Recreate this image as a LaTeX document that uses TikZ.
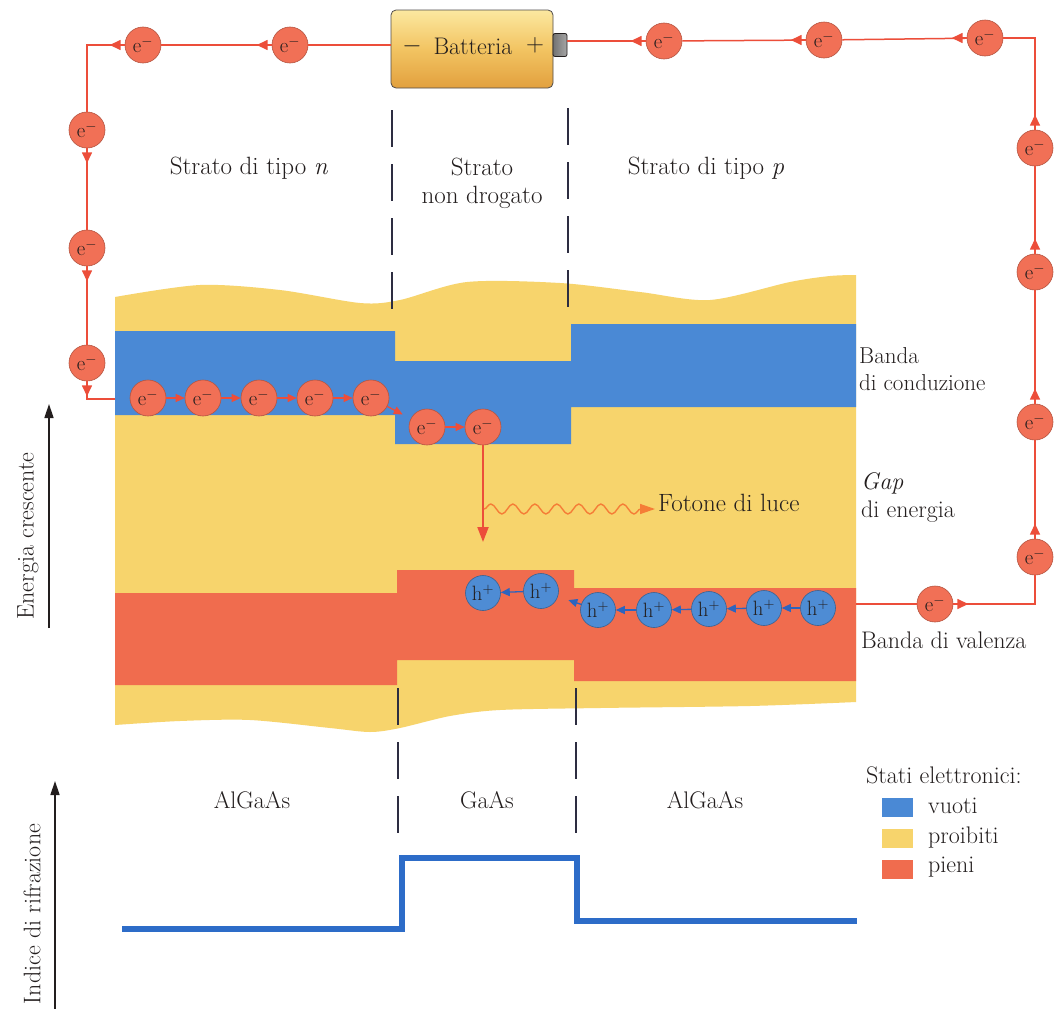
\documentclass[tikz,border=0pt]{standalone}
\usetikzlibrary{arrows.meta,decorations.pathmorphing,calc}

\definecolor{bandY}{RGB}{247,212,108}
\definecolor{bandB}{RGB}{74,137,213}
\definecolor{bandR}{RGB}{240,108,78}
\definecolor{wireR}{RGB}{236,78,58}
\definecolor{elecF}{RGB}{241,112,86}
\definecolor{holeF}{RGB}{78,140,212}
\definecolor{holeA}{RGB}{45,100,190}
\definecolor{photon}{RGB}{245,125,55}
\definecolor{ink}{RGB}{35,30,30}
\definecolor{rule}{RGB}{45,45,65}
\definecolor{idx}{RGB}{45,108,200}
\definecolor{batTop}{RGB}{252,232,160}
\definecolor{batMid}{RGB}{242,196,98}
\definecolor{batBot}{RGB}{226,160,62}

\begin{document}
\begin{tikzpicture}[x=1pt,y=-1pt,
  lab/.style={font=\fontsize{24}{28}\selectfont, text=ink, inner sep=0pt},
  biglab/.style={font=\fontsize{25}{28}\selectfont, text=ink, inner sep=0pt},
  sidelab/.style={font=\fontsize{23}{27}\selectfont, text=ink, inner sep=0pt},
  elec/.style={circle, minimum size=36pt, inner sep=0pt, fill=elecF,
    draw=elecF!75!black, line width=0.6pt, font=\fontsize{22}{22}\selectfont, text=ink},
  hole/.style={circle, minimum size=35pt, inner sep=0pt, fill=holeF,
    draw=holeF!70!black, line width=0.6pt, font=\fontsize{21}{21}\selectfont, text=ink},
  wire/.style={draw=wireR, line width=1.5pt},
  wtip/.style={draw=wireR, line width=1.5pt, -{Triangle[length=11pt,width=10pt]}},
  etip/.style={draw=wireR, line width=1.3pt, -{Triangle[length=9pt,width=8pt]}},
  htip/.style={draw=holeA, line width=1.3pt, -{Triangle[length=9pt,width=8pt]}},
  border/.style={draw=rule, line width=1.4pt, dash pattern=on 37pt off 17pt},
  axisarrow/.style={draw=ink, line width=1.5pt, -{Triangle[length=14pt,width=9pt]}},
  swatch/.style={minimum width=31pt, minimum height=19pt, inner sep=0pt},
]
\fill[white] (0,0) rectangle (1063,1009);
\useasboundingbox (0,0) rectangle (1063,1009);

% ---- energy bands ----
\fill[bandY] plot[smooth] coordinates {(115,297) (200,285) (280,290) (360,303) (400,300)
  (467,282) (560,283) (640,292) (710,300) (790,282) (830,276) (856,275)}
  -- plot[smooth] coordinates {(856,702) (750,706) (600,708) (500,710) (450,716)
  (400,728) (370,732) (330,728) (250,720) (180,721) (115,725)} -- cycle;
% conduction band (empty states)
\fill[bandB] (115,331) -- (395,331) -- (395,361) -- (571,361) -- (571,324) -- (856,324)
  -- (856,407) -- (571,407) -- (571,444) -- (395,444) -- (395,415) -- (115,415) -- cycle;
% valence band (filled states)
\fill[bandR] (115,593) -- (397,593) -- (397,570) -- (574,570) -- (574,588) -- (856,588)
  -- (856,681) -- (574,681) -- (574,660) -- (397,660) -- (397,685) -- (115,685) -- cycle;

% ---- layer boundaries ----
\coordinate (dl1) at (392,110); \coordinate (dl2) at (392,309);
\coordinate (dr1) at (568,108); \coordinate (dr2) at (568,307);
\coordinate (dl3) at (398,688); \coordinate (dl4) at (398,834);
\coordinate (dr3) at (576,688); \coordinate (dr4) at (576,834);
\draw[border] (dl1) -- (dl2);
\draw[border] (dr1) -- (dr2);
\draw[border] (dl3) -- (dl4);
\draw[border] (dr3) -- (dr4);

% ---- battery ----
\node[draw=ink!80, line width=0.8pt, rounded corners=5pt, top color=batTop, bottom color=batBot,
  middle color=batMid, minimum width=162pt, minimum height=78pt] (bat) at (472,49) {};
\node[draw=ink, line width=0.8pt, rounded corners=2pt, left color=black!55, right color=black!35,
  minimum width=14pt, minimum height=23pt, inner sep=0pt] (term) at (560,45) {};
\node[lab] (bminus) at (412,46) {$-$};
\node[lab] (bname) at (473,46) {Batteria};
\node[lab] (bplus) at (535,45) {$+$};

% ---- circuit electrons ----
\node[elec] (tl1) at (143,45) {$\mathrm{e}^{-}$};
\node[elec] (tl2) at (290,45) {$\mathrm{e}^{-}$};
\node[elec] (l1) at (87,130) {$\mathrm{e}^{-}$};
\node[elec] (l2) at (87,248) {$\mathrm{e}^{-}$};
\node[elec] (l3) at (87,363) {$\mathrm{e}^{-}$};
\node[elec] (tr1) at (664,41) {$\mathrm{e}^{-}$};
\node[elec] (tr2) at (824,40) {$\mathrm{e}^{-}$};
\node[elec] (tr3) at (985,38) {$\mathrm{e}^{-}$};
\node[elec] (r1) at (1035,148) {$\mathrm{e}^{-}$};
\node[elec] (r2) at (1035,272) {$\mathrm{e}^{-}$};
\node[elec] (r3) at (1035,422) {$\mathrm{e}^{-}$};
\node[elec] (r4) at (1035,557) {$\mathrm{e}^{-}$};
\node[elec] (br) at (935,604) {$\mathrm{e}^{-}$};
\coordinate (c1) at (87,45);
\coordinate (c2) at (87,399);
\coordinate (cin) at (115,399);
\coordinate (c3) at (1035,38);
\coordinate (c4) at (1035,604);
\coordinate (cout) at (856,604);

\draw[wire] (bat.west |- tl2) -- (tl2);
\draw[wire] (tl2) -- (tl1);
\draw[wire] (tl1) -- (c1) -- (l1);
\draw[wire] (l1) -- (l2);
\draw[wire] (l2) -- (l3);
\draw[wire] (l3) -- (c2) -- (cin);
\draw[wire] (term.east |- tr1) -- (tr1);
\draw[wire] (tr1) -- (tr2);
\draw[wire] (tr2) -- (tr3);
\draw[wire] (tr3) -- (c3) -- (r1);
\draw[wire] (r1) -- (r2);
\draw[wire] (r2) -- (r3);
\draw[wire] (r3) -- (r4);
\draw[wire] (r4) -- (c4) -- (br);
\draw[wire] (br) -- (cout);

\foreach \n in {tl1,tl2,tr1,tr2,tr3} \draw[wtip] (\n.west) -- ++(-15,0);
\foreach \n in {l1,l2,l3} \draw[wtip] (\n.south) -- ++(0,15);
\foreach \n in {r1,r2,r3,r4} \draw[wtip] (\n.north) -- ++(0,-15);
\draw[wtip] (br.east) -- ++(15,0);

% ---- electrons in the conduction band ----
\node[elec] (b1) at (148,398) {$\mathrm{e}^{-}$};
\node[elec] (b2) at (203,398) {$\mathrm{e}^{-}$};
\node[elec] (b3) at (259,398) {$\mathrm{e}^{-}$};
\node[elec] (b4) at (315,398) {$\mathrm{e}^{-}$};
\node[elec] (b5) at (371,398) {$\mathrm{e}^{-}$};
\node[elec] (b6) at (427,427) {$\mathrm{e}^{-}$};
\node[elec] (b7) at (483,427) {$\mathrm{e}^{-}$};
\draw[etip] (b1) -- (b2);
\draw[etip] (b2) -- (b3);
\draw[etip] (b3) -- (b4);
\draw[etip] (b4) -- (b5);
\draw[etip, shorten >=9pt] (b5) -- (b6);
\draw[etip] (b6) -- (b7);

% ---- recombination and photon ----
\coordinate (drop) at (483,542);
\coordinate (ws) at (484,509);
\node[biglab, anchor=west] (fot) at (658,503) {Fotone di luce};
\draw[draw=wireR, line width=2pt, -{Triangle[length=15pt,width=11pt]}] (b7) -- (drop);
\draw[draw=photon, line width=1.4pt, decorate,
  decoration={snake, amplitude=5pt, segment length=22pt, post length=16pt},
  -{Triangle[length=15pt,width=10pt]}, shorten >=3pt] (ws) -- (ws -| fot.west);

% ---- holes in the valence band ----
\node[hole] (h1) at (483,593) {$\mathrm{h}^{+}$};
\node[hole] (h2) at (541,591) {$\mathrm{h}^{+}$};
\node[hole] (h3) at (598,610) {$\mathrm{h}^{+}$};
\node[hole] (h4) at (654,610) {$\mathrm{h}^{+}$};
\node[hole] (h5) at (709,609) {$\mathrm{h}^{+}$};
\node[hole] (h6) at (764,608) {$\mathrm{h}^{+}$};
\node[hole] (h7) at (818,608) {$\mathrm{h}^{+}$};
\draw[htip] (h2) -- (h1);
\draw[htip, shorten >=11pt] (h3) -- (h2);
\draw[htip] (h4) -- (h3);
\draw[htip] (h5) -- (h4);
\draw[htip] (h6) -- (h5);
\draw[htip] (h7) -- (h6);

% ---- labels ----
\node[biglab, anchor=base] (sn) at (249,174) {Strato di tipo \textit{n}};
\node[biglab, align=center] (su) at (482,183) {Strato\\non drogato};
\node[biglab, anchor=base] (sp) at (706,174) {Strato di tipo \textit{p}};
\node[sidelab, align=left, anchor=west] (cond) at (859,369) {Banda\\di conduzione};
\node[lab, align=left, anchor=west] (gap) at (861,497) {\textit{Gap}\\di energia};
\node[lab, anchor=west] (val) at (861,640) {Banda di valenza};
\node[lab] (m1) at (252,800) {AlGaAs};
\node[lab] (m2) at (487,800) {GaAs};
\node[lab] (m3) at (705,800) {AlGaAs};

% ---- legend ----
\node[lab, anchor=west] (lgt) at (866,775) {Stati elettronici:};
\node[swatch, fill=bandB] (lg1) at (897,807) {};
\node[swatch, fill=bandY] (lg2) at (897,838) {};
\node[swatch, fill=bandR] (lg3) at (897,869) {};
\node[lab, anchor=west] (lv) at (928,806) {vuoti};
\node[lab, anchor=west] (lp) at (928,838) {proibiti};
\node[lab, anchor=west] (lf) at (928,867) {pieni};

% ---- axes ----
\coordinate (ea0) at (49,628);
\coordinate (ea1) at (49,404);
\draw[axisarrow] (ea0) -- (ea1);
\node[lab, rotate=90] (ename) at (28,536) {Energia crescente};
\coordinate (ia0) at (55,1009);
\coordinate (ia1) at (55,781);
\draw[axisarrow] (ia0) -- (ia1);
\node[lab, rotate=90] (iname) at (32,914) {Indice di rifrazione};

% ---- refractive index profile ----
\draw[idx, line width=6pt, line join=miter] (122,929) -- (402,929) -- (402,858)
  -- (577,858) -- (577,921) -- (857,921);
\end{tikzpicture}
\end{document}
